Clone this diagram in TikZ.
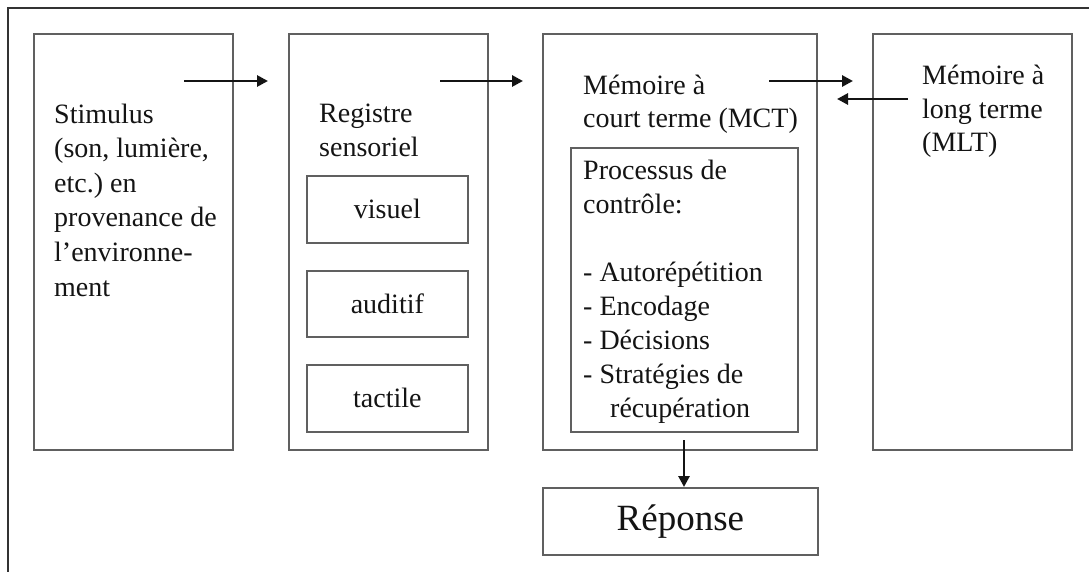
\documentclass[tikz,border=0pt]{standalone}
\usepackage{fontspec}
\setmainfont{Liberation Serif}
\usetikzlibrary{arrows.meta}
\frenchspacing
\definecolor{boxgray}{HTML}{606060}
\definecolor{txt}{HTML}{141414}
\tikzset{
  box/.style={draw=boxgray, line width=1.7pt, inner sep=0pt, anchor=north west, text=txt, font=\fontsize{28}{34.5}\selectfont},
  lbl/.style={anchor=base west, inner sep=0pt, align=left, text=txt, font=\fontsize{28}{34}\selectfont},
  arr/.style={line width=2.8pt, draw=black!92, -{Triangle[length=11pt,width=11pt]}},
  frame/.style={line width=2pt, draw=black!80}
}
\begin{document}
\frenchspacing
\begin{tikzpicture}[x=1pt,y=-1pt]
\useasboundingbox (0,0) rectangle (1089,572);
\fill[white] (0,0) rectangle (1089,572);
\coordinate (fbl) at (8,590);
\coordinate (ftl) at (8,8);
\coordinate (ftr) at (1100,8);
\draw[frame] (fbl) -- (ftl) -- (ftr);

% boxes
\node[box, minimum width=199pt, minimum height=416pt] (stim) at (33,33) {};
\node[box, minimum width=199pt, minimum height=416pt] (reg) at (288,33) {};
\node[box, minimum width=161pt, minimum height=67pt] (vis) at (306,175) {visuel};
\node[box, minimum width=161pt, minimum height=66pt] (aud) at (306,270) {auditif};
\node[box, minimum width=161pt, minimum height=67pt] (tac) at (306,364) {tactile};
\node[box, minimum width=274pt, minimum height=416pt] (mct) at (542,33) {};
\node[box, minimum width=227pt, minimum height=284pt] (proc) at (570,147) {};
\node[box, minimum width=199pt, minimum height=416pt] (mlt) at (872,33) {};
\node[box, minimum width=275pt, minimum height=67pt, font=\fontsize{37}{44}\selectfont] (rep) at (542,487) {Réponse};

% texts (anchor = baseline of last line)
\node[lbl, font=\fontsize{28}{34.6}\selectfont] (stimtxt) at (54,296) {Stimulus\\(son, lumière,\\etc.) en\\provenance de\\l’environne-\\ment};
\node[lbl] (regtxt) at (319,157) {Registre\\sensoriel};
\node[lbl, font=\fontsize{28}{33}\selectfont] (mcttxt) at (583,128) {Mémoire à\\court terme (MCT)};
\node[lbl, font=\fontsize{28}{33.9}\selectfont] (proctxt) at (583,417) {Processus de\\contrôle:\\\mbox{}\\- Autorépétition\\- Encodage\\- Décisions\\- Stratégies de\\\hspace*{27pt}récupération};
\node[lbl, font=\fontsize{28}{33.5}\selectfont] (mlttxt) at (922,152) {Mémoire à\\long terme\\(MLT)};

% arrows
\coordinate (a1s) at (184,81);
\coordinate (a1e) at (268,81);
\coordinate (a2s) at (440,81);
\coordinate (a2e) at (523,81);
\coordinate (a3s) at (769,81);
\coordinate (a3e) at (853,81);
\coordinate (a4s) at (908,99);
\coordinate (a4e) at (837,99);
\coordinate (a5s) at (684,440);
\draw[arr] (a1s) -- (a1e);
\draw[arr] (a2s) -- (a2e);
\draw[arr] (a3s) -- (a3e);
\draw[arr] (a4s) -- (a4e);
\draw[arr] (a5s) -- (a5s |- rep.north);
\end{tikzpicture}
\end{document}
